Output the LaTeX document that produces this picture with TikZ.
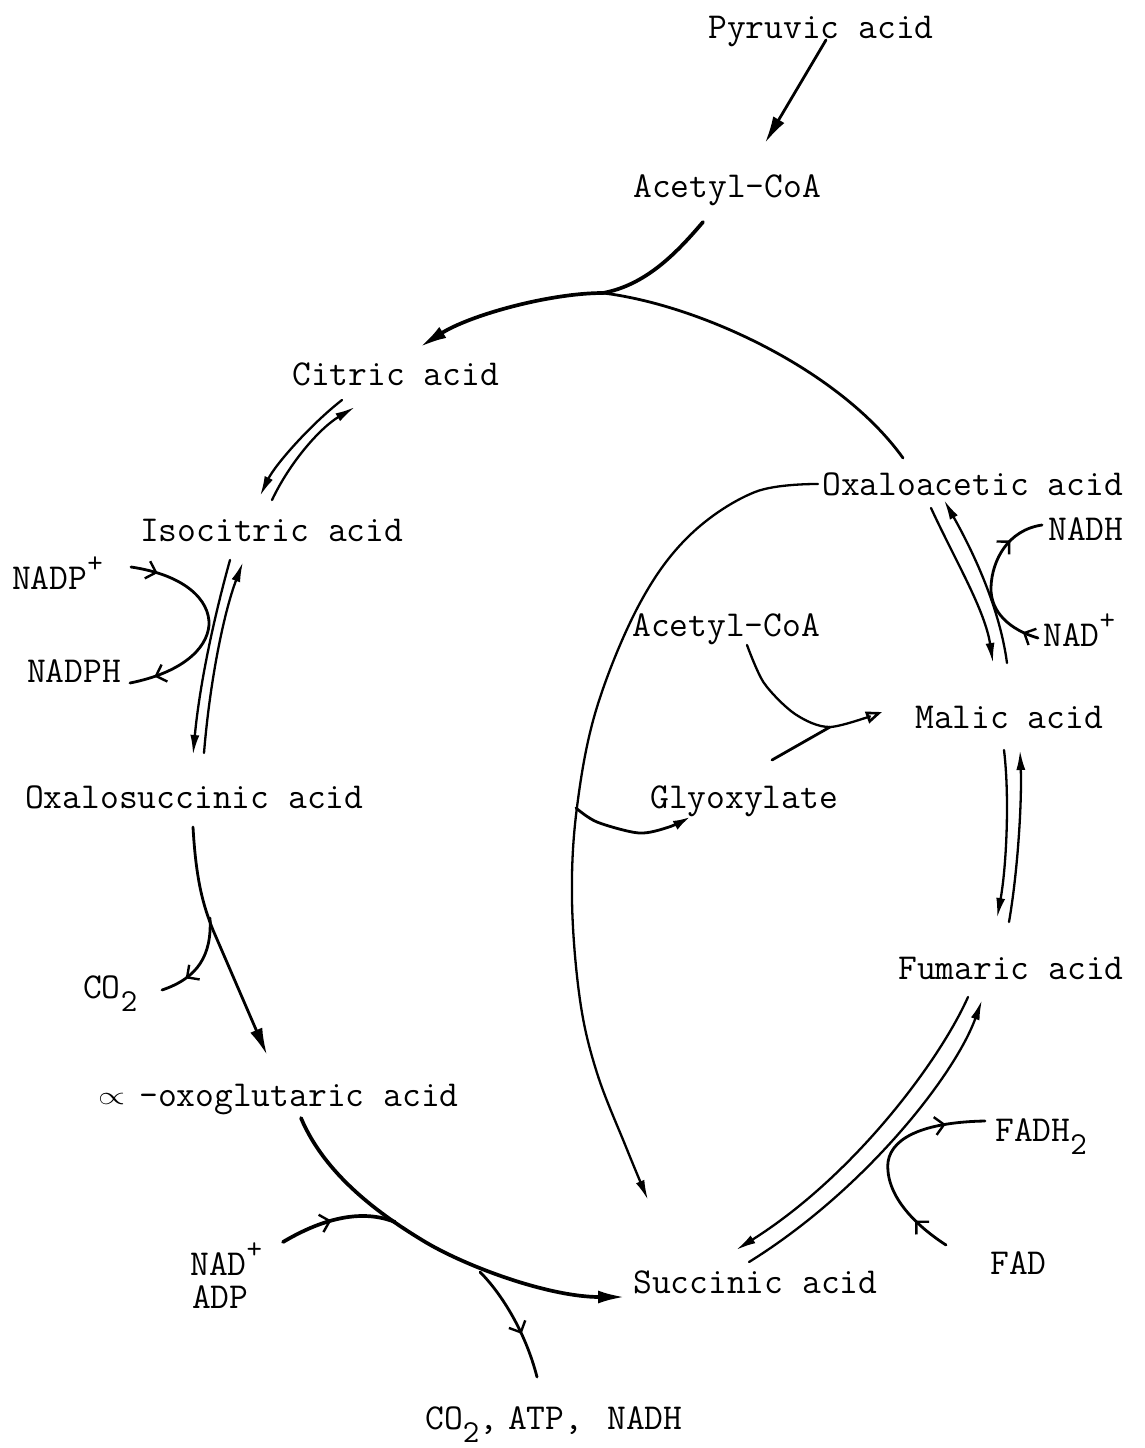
\documentclass[tikz,border=0pt]{standalone}
\usepackage{graphicx}
\usetikzlibrary{arrows.meta,decorations.markings}
\newcommand\tx{\fontsize{36.5}{32}\selectfont\ttfamily}
\newcommand\mysup[1]{\raisebox{0.45em}{\fontsize{30}{30}\selectfont #1}}
\newcommand\mysub[1]{\raisebox{-0.36em}{\fontsize{32}{32}\selectfont #1}}
\begin{document}
\begin{tikzpicture}[x=1pt,y=-1pt,
  every node/.style={inner sep=0pt,font=\tx},
  lbl/.style={anchor=base west},
  ln/.style={line width=3.7pt,line cap=round},
  tn/.style={line width=2.8pt,line cap=round},
  pr/.style={line width=2.3pt,line cap=round},
  bigtip/.style={-{Latex[length=27pt,width=13pt]}},
  tip/.style={-{Latex[length=20pt,width=9pt]}},
  smalltip/.style={-{Latex[length=17pt,width=10pt]}},
  tick/.style={postaction={decorate,decoration={markings,mark=at position #1 with {\arrow{Straight Barb[length=9pt,width=18pt,line width=2.4pt]}}}}}
]
\useasboundingbox[fill=white] (0,0) rectangle (1145,1448);

% labels
\node[lbl] (pyr)   at (708,38)   {Pyruvic acid};
\node[lbl] (acoa)  at (633,197)  {Acetyl-CoA};
\node[lbl] (cit)   at (292,385)  {Citric acid};
\node[lbl] (iso)   at (140,541)  {Isocitric acid};
\node[lbl] (nadp)  at (12,589)   {NADP\mysup{+}};
\node[lbl] (nadph) at (27,682)   {NADPH};
\node[lbl] (oxs)   at (25,808)   {Oxalosuccinic acid};
\node[lbl] (coa)   at (83,998)   {CO\mysub{2}};
\node[lbl] (akg)   at (98,1106)  {\raisebox{2pt}{\resizebox{27pt}{11pt}{$\propto$}}\hspace{14pt}-oxoglutaric acid};
\node[lbl] (nadl)  at (190,1275) {NAD\mysup{+}};
\node[lbl] (adp)   at (192,1308) {ADP};
\node[lbl] (prod)  at (425,1429) {CO\mysub{2},\hspace{10pt}ATP,\hspace{24pt}NADH};
\node[lbl] (suc)   at (633,1293) {Succinic acid};
\node[lbl] (fad)   at (990,1274) {FAD};
\node[lbl] (fadh)  at (995,1141) {FADH\mysub{2}};
\node[lbl] (fum)   at (898,979)  {Fumaric acid};
\node[lbl] (mal)   at (915,728)  {Malic acid};
\node[lbl] (gly)   at (650,808)  {Glyoxylate};
\node[lbl] (acob)  at (632,636)  {Acetyl-CoA};
\node[lbl] (nadr)  at (1043,646) {NAD\mysup{+}};
\node[lbl] (nadh)  at (1048,540) {NADH};
\node[lbl] (oaa)   at (822,495)  {Oxaloacetic acid};

% pyruvic -> acetyl-CoA
\draw[tn,bigtip] (826,40) -- (765,143);

% acetyl-CoA + oxaloacetate -> citrate
\coordinate (j) at (603,293);
\draw[ln] (703,222) .. controls (675,255) and (645,285) .. (j);
\draw[ln,bigtip] (j) .. controls (550,293) and (470,315) .. (420,347);
\draw[tn] (j) .. controls (700,305) and (840,370) .. (903,458);

% citric <-> isocitric
\draw[pr,tip] (342,400) .. controls (310,425) and (275,465) .. (260,496);
\draw[pr,tip] (272,500) .. controls (290,462) and (320,428) .. (355,407);

% isocitric <-> oxalosuccinic
\draw[pr,tip] (230,560) .. controls (216,610) and (200,680) .. (193,755);
\draw[pr,tip] (204,753) .. controls (210,680) and (224,612) .. (243,562);

% NADP+ -> NADPH
\draw[tn,tick=0.13,tick=0.88] (131,567) .. controls (185,575) and (210,600) .. (209,625)
   .. controls (207,650) and (180,673) .. (130,683);

% oxalosuccinic -> alpha-oxoglutaric
\draw[tn,bigtip] (193,827) .. controls (196,880) and (203,905) .. (213,930) -- (267,1055);
\draw[tn,tick=0.72] (210,918) .. controls (212,955) and (198,978) .. (162,990);

% alpha-oxoglutaric -> succinic
\draw[ln,bigtip] (301,1118) .. controls (325,1175) and (380,1215) .. (427,1243)
   .. controls (470,1268) and (550,1297) .. (625,1297);
\draw[ln,tick=0.45] (283,1242) .. controls (320,1220) and (360,1208) .. (395,1222);
\draw[tn,tick=0.62] (480,1272) .. controls (500,1292) and (525,1330) .. (537,1377);

% oxaloacetic -> succinic (glyoxylate route)
\draw[pr,tip] plot[smooth,tension=0.6] coordinates {(818,484) (755,492) (690,535) (640,603) (597,707) (577,807) (572,900) (580,1000) (597,1073) (626,1147) (648,1200)};
\draw[tn,smalltip] plot[smooth] coordinates {(576,808) (597,822) (639,833) (669,827) (690,817)};

% acetyl-CoA + glyoxylate -> malic
\draw[pr,-{Triangle[open,length=16pt,width=12pt,line width=2.6pt]}] plot[smooth] coordinates {(747,645) (764,683) (795,714) (830,727) (882,712)};
\draw[tn] (772,760) -- (830,727);

% oxaloacetic <-> malic
\draw[pr,tip] (931,508) .. controls (955,560) and (985,610) .. (993,663);
\draw[pr,tip] (1007,663) .. controls (1000,610) and (975,555) .. (944,500);
\draw[tn,tick=0.1,tick=0.78] (1038,638) .. controls (1010,630) and (990,612) .. (991,587)
   .. controls (992,560) and (1008,530) .. (1042,525);

% malic <-> fumaric
\draw[pr,tip] (1004,750) .. controls (1010,800) and (1006,870) .. (997,918);
\draw[pr,tip] (1009,922) .. controls (1018,870) and (1022,800) .. (1020,750);

% fumaric <-> succinic
\draw[pr,tip] (968,997) .. controls (940,1060) and (855,1175) .. (736,1250);
\draw[pr,tip] (749,1262) .. controls (865,1190) and (955,1075) .. (982,1000);
\draw[tn,tick=0.18,tick=0.82] (946,1245) .. controls (915,1225) and (885,1195) .. (888,1162)
   .. controls (892,1135) and (930,1122) .. (985,1121);
\end{tikzpicture}
\end{document}
